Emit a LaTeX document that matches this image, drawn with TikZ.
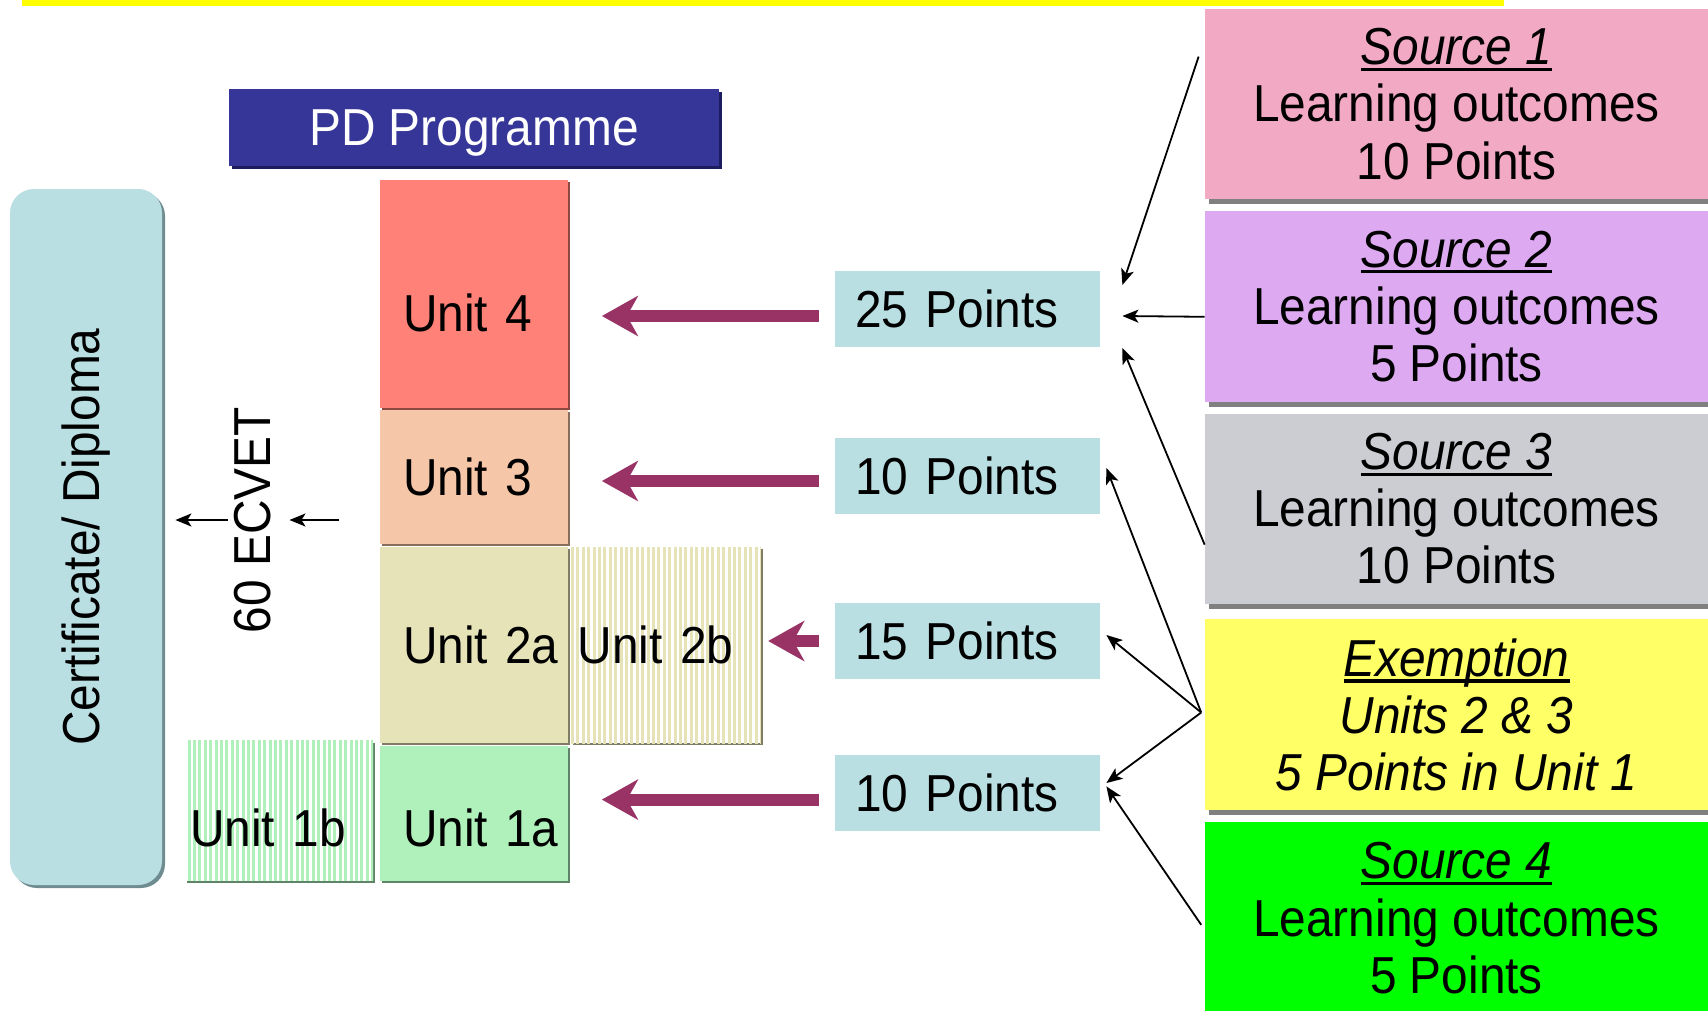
\documentclass[tikz,border=0pt]{standalone}
\usepackage{fontspec}
\setmainfont[FakeStretch=0.92]{Liberation Sans}
\usepackage{graphicx}
\usetikzlibrary{arrows.meta, positioning, shadows, patterns.meta}
\definecolor{barYellow}{HTML}{FFFF00}
\definecolor{pdBlue}{HTML}{363699}
\definecolor{pdShadow}{HTML}{1C1C5E}
\definecolor{certBlue}{HTML}{B9DFE2}
\definecolor{certShadow}{HTML}{6F8C90}
\definecolor{ptsBlue}{HTML}{B9DFE2}
\definecolor{u4Red}{HTML}{FF8177}
\definecolor{u3Peach}{HTML}{F5C6A8}
\definecolor{u2Sand}{HTML}{E6E3B8}
\definecolor{u1Green}{HTML}{AFF0BB}
\definecolor{s1Pink}{HTML}{F2A9C3}
\definecolor{s2Violet}{HTML}{DDA9F0}
\definecolor{s3Grey}{HTML}{CBCDD3}
\definecolor{exYellow}{HTML}{FFFF66}
\definecolor{s4Green}{HTML}{00FF00}
\definecolor{arrowPurple}{HTML}{993366}
\newsavebox{\ulsave}
\newcommand*{\ulbox}[1]{\sbox{\ulsave}{#1}\rlap{\rule[-3.2pt]{\wd\ulsave}{1.6pt}}\usebox{\ulsave}}

\begin{document}
\begin{tikzpicture}[x=0.5pt,y=-0.5pt,
    font=\fontsize{26}{28.6}\selectfont,
    unit/.style={fill=#1, inner xsep=11.5pt, inner ysep=0pt, text width=71pt, align=left,
      drop shadow={shadow xshift=1pt, shadow yshift=-1pt, fill=#1!55!black, opacity=1}},
    striped/.style={fill=white, inner ysep=0pt, align=left,
      postaction={pattern={Lines[angle=90, distance=2.7pt, line width=1.5pt]}, pattern color=#1},
      drop shadow={shadow xshift=1pt, shadow yshift=-1pt, fill=#1!55!black, opacity=1}},
    pts/.style={fill=ptsBlue, inner xsep=10pt, inner ysep=0pt, text width=112.5pt,
      align=left, minimum height=38pt},
    source/.style={fill=#1, minimum width=251.5pt, inner sep=0pt, align=center,
      drop shadow={shadow xshift=2pt, shadow yshift=-2.5pt, fill=black!50, opacity=1}},
    link/.style={-{Stealth[length=8pt, width=6.5pt, inset=2pt]}, line width=0.9pt},
    bigarrow/.style={-{Stealth[length=18pt, width=20pt, inset=5.5pt]}, line width=6pt,
      arrowPurple, shorten <=8pt}]
  \useasboundingbox (0,0) rectangle (1708,1011);
  \fill[barYellow] (22,0) rectangle (1504,5.7);

  % programme and certificate
  \node[fill=pdBlue, text=white, minimum width=245pt, minimum height=38.5pt, inner sep=0pt,
    text depth=0pt, drop shadow={shadow xshift=1.5pt, shadow yshift=-1.5pt, fill=pdShadow, opacity=1}]
    (pd) at (474,127.5) {PD Programme};
  \node[fill=certBlue, rounded corners=12pt, minimum width=76pt, minimum height=348pt, inner sep=0pt,
    drop shadow={shadow xshift=1.5pt, shadow yshift=-1.5pt, fill=certShadow, opacity=1}]
    (cert) at (86,537) {\rotatebox{90}{Certificate/ Diploma}};
  \node (ecvet) at (253,520) {\rotatebox{90}{60 ECVET}};
  \coordinate (stack_in) at (339,520);

  % units
  \node[unit=u4Red, text height=75.5pt, text depth=38.5pt] (u_4) at (474,294) {Unit~4};
  \node[unit=u3Peach, minimum height=67pt, below=0.8pt of u_4] (u_3) {Unit~3};
  \node[unit=u2Sand, minimum height=98pt, below=1pt of u_3] (u_2a) {Unit~2a};
  \node[unit=u1Green, text height=50.5pt, text depth=17pt, below=0.8pt of u_2a] (u_1a) {Unit~1a};
  \node[striped=u2Sand, inner xsep=3.5pt, text width=88pt, minimum height=98pt,
    right=1pt of u_2a] (u_2b) {Unit~2b};
  \node[striped=u1Green, inner xsep=2.5pt, text width=89pt, text height=53pt, text depth=17pt,
    anchor=south east] (u_1b) at ([xshift=-3pt]u_1a.south west) {Unit~1b};

  % points
  \node[pts] (p_25) at (967.5,309) {25 Points};
  \node[pts] (p_10a) at (967.5,476) {10 Points};
  \node[pts] (p_15) at (967.5,641) {15 Points};
  \node[pts] (p_10b) at (967.5,793) {10 Points};

  % sources
  \node[source=s1Pink, minimum height=95pt] (s_1) at (1456.5,104)
    {\ulbox{\itshape Source 1}\\Learning outcomes\\10 Points};
  \node[source=s2Violet, minimum height=95.5pt, below=5.5pt of s_1] (s_2)
    {\ulbox{\itshape Source 2}\\Learning outcomes\\5 Points};
  \node[source=s3Grey, minimum height=95pt, below=5.5pt of s_2] (s_3)
    {\ulbox{\itshape Source 3}\\Learning outcomes\\10 Points};
  \node[source=exYellow, minimum height=95.5pt, below=7.5pt of s_3,
    font=\fontsize{26}{28.6}\selectfont\itshape] (ex)
    {\ulbox{Exemption}\\Units 2 \& 3\\5 Points in Unit 1};
  \node[source=s4Green, minimum height=96pt, below=5.5pt of ex] (s_4)
    {\ulbox{\itshape Source 4}\\Learning outcomes\\5 Points};
  \coordinate (fan) at ([xshift=-1.7pt, yshift=1.2pt]ex.west);

  \draw[bigarrow, shorten >=16.75pt] ([yshift=-3.5pt]p_25.west) -- ([yshift=-3.5pt]p_25.west -| u_4.east);
  \draw[bigarrow, shorten >=16.75pt] ([yshift=-2.5pt]p_10a.west) -- ([yshift=-2.5pt]p_10a.west -| u_3.east);
  \draw[bigarrow, shorten >=3.5pt] (p_15.west) -- (p_15.west -| u_2b.east);
  \draw[bigarrow, shorten >=16.75pt] ([yshift=-3.3pt]p_10b.west) -- ([yshift=-3.3pt]p_10b.west -| u_1a.east);

  \path[link]
    ([xshift=-3pt, yshift=-24pt]s_1.north west) edge ([xshift=11pt, yshift=12pt]p_25.east)
    ([yshift=-5.25pt]s_2.west) edge ([xshift=11pt, yshift=-3.5pt]p_25.east)
    ([yshift=-18pt]s_3.west) edge ([xshift=11pt, yshift=-19.5pt]p_25.east)
    (fan) edge ([xshift=3pt, yshift=4pt]p_10a.east)
    (fan) edge ([xshift=3pt, yshift=3pt]p_15.east)
    (fan) edge ([xshift=3pt, yshift=5pt]p_10b.east)
    ([xshift=-1.7pt, yshift=-3.3pt]s_4.west) edge ([xshift=3pt, yshift=3.3pt]p_10b.east)
    (ecvet.west) edge[shorten >=6.5pt] (ecvet.west -| cert.east)
    (stack_in) edge[shorten >=5.5pt] (ecvet.east);
\end{tikzpicture}
\end{document}
